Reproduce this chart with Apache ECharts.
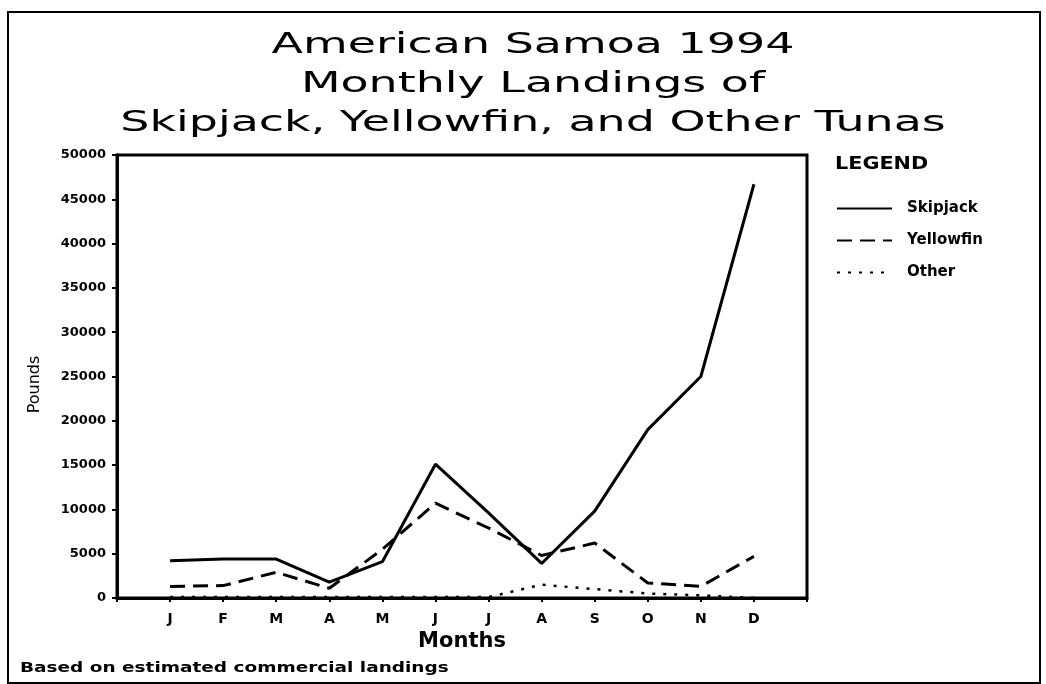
<!DOCTYPE html>
<html>
<head>
<meta charset="utf-8">
<script src="https://cdn.jsdelivr.net/npm/echarts@6/dist/echarts.min.js"></script>
<style>
  html, body { margin: 0; padding: 0; background: #fff; }
  #chart { width: 1046px; height: 684px; }
</style>
</head>
<body>
<div id="chart"></div>
<script>
// month letters, placed at x = 1..12 (axis runs 0..13)
const months = ['J', 'F', 'M', 'A', 'M', 'J', 'J', 'A', 'S', 'O', 'N', 'D'];
const skipjack = [4200, 4400, 4400, 1800, 4100, 15100, 9600, 3900, 9800, 19000, 25000, 46700];
const yellowfin = [1300, 1400, 2900, 1100, 5500, 10700, 7900, 4800, 6200, 1700, 1300, 4700];
const other = [100, 100, 100, 100, 100, 100, 100, 1500, 1000, 500, 300, 0];

const toPairs = arr => arr.map((v, i) => [i + 1, v]);

const chart = echarts.init(document.getElementById('chart'));
const font = 'DejaVu Sans';

const option = {
  backgroundColor: '#ffffff',
  animation: false,
  legend: {
    orient: 'vertical',
    left: 836,
    top: 201,
    padding: 0,
    itemWidth: 55,
    itemHeight: 14,
    itemGap: 17,
    itemStyle: { opacity: 0 },
    textStyle: { fontFamily: font, fontWeight: 'bold', fontSize: 15, color: '#000', padding: [0, 0, 0, 10] },
    data: ['Skipjack', 'Yellowfin', 'Other']
  },
  grid: {
    left: 117, top: 155, right: 239, bottom: 86,
    show: true, borderColor: '#000', borderWidth: 3, backgroundColor: 'transparent'
  },
  xAxis: {
    type: 'value',
    min: 0, max: 13, interval: 1,
    name: 'Months',
    nameLocation: 'middle',
    nameGap: 31,
    nameTextStyle: { fontFamily: font, fontWeight: 'bold', fontSize: 21, color: '#000' },
    axisLine: { lineStyle: { color: '#000', width: 3 } },
    axisTick: { show: true, length: 4, lineStyle: { color: '#000', width: 2 } },
    splitLine: { show: false },
    axisLabel: {
      margin: 14,
      fontFamily: font, fontWeight: 'bold', fontSize: 14, color: '#000',
      formatter: v => (v >= 1 && v <= 12 ? months[v - 1] : '')
    }
  },
  yAxis: {
    type: 'value',
    min: 0, max: 50000, interval: 5000,
    name: 'Pounds',
    nameLocation: 'middle',
    nameGap: 74,
    nameRotate: 90,
    nameTextStyle: { fontFamily: font, fontSize: 16, color: '#000', padding: [0, 16, 0, 0] },
    axisLine: { show: true, lineStyle: { color: '#000', width: 3 } },
    axisTick: { show: true, length: 5, lineStyle: { color: '#000', width: 2 } },
    splitLine: { show: false },
    axisLabel: {
      margin: 11, fontFamily: font, fontWeight: 'bold', fontSize: 13, color: '#000',
      formatter: v => String(v)
    }
  },
  series: [{
    name: 'Skipjack', type: 'line', symbol: 'none',
    data: toPairs(skipjack),
    lineStyle: { color: '#000', width: 3, type: 'solid' },
    itemStyle: { color: '#000' }
  }, {
    name: 'Yellowfin', type: 'line', symbol: 'none',
    data: toPairs(yellowfin),
    lineStyle: { color: '#000', width: 3, type: [15, 8] },
    itemStyle: { color: '#000' }
  }, {
    name: 'Other', type: 'line', symbol: 'none',
    data: toPairs(other),
    lineStyle: { color: '#000', width: 2.5, type: [3, 8] },
    itemStyle: { color: '#000' }
  }],
  graphic: [{
    type: 'rect',
    shape: { x: 8, y: 12, width: 1032, height: 671 },
    style: { fill: 'none', stroke: '#000', lineWidth: 2 },
    silent: true
  }, {
    // title, stretched wide like the original lettering
    type: 'text',
    x: 533, y: 26, scaleX: 1.64,
    style: {
      text: 'American Samoa 1994\nMonthly Landings of\nSkipjack, Yellowfin, and Other Tunas',
      font: 'normal 28px "DejaVu Sans"', lineHeight: 39,
      align: 'center', verticalAlign: 'top', fill: '#000'
    }
  }, {
    type: 'text',
    x: 835, y: 165, scaleX: 1.22,
    style: { text: 'LEGEND', font: 'bold 17px "DejaVu Sans"', verticalAlign: 'middle', fill: '#000' }
  }, {
    type: 'text',
    x: 20, y: 668, scaleX: 1.32,
    style: { text: 'Based on estimated commercial landings', font: 'bold 14px "DejaVu Sans"', verticalAlign: 'middle', fill: '#000' }
  }]
};

chart.setOption(option);
</script>
</body>
</html>
